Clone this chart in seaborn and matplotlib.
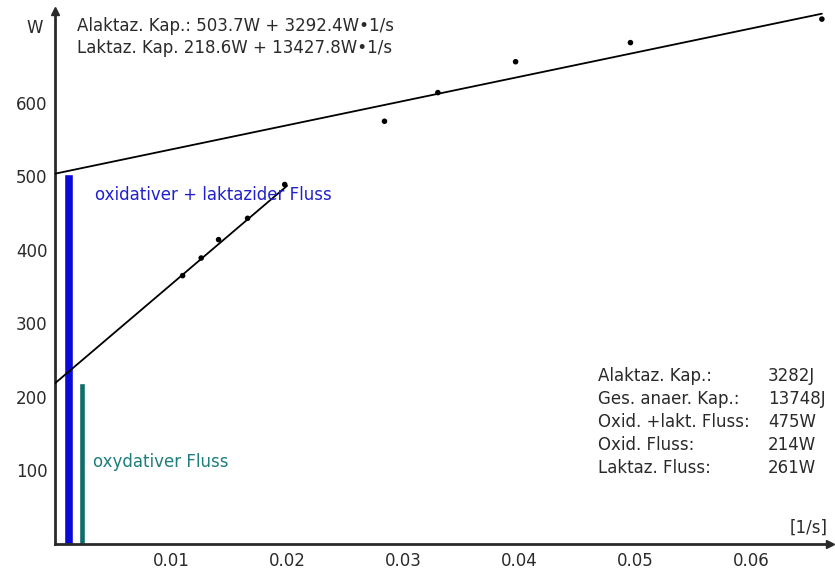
import numpy as np
import pandas as pd
import matplotlib
matplotlib.use("Agg")
import matplotlib.pyplot as plt
import seaborn as sns

# Data
lower_x = [0.0110, 0.0126, 0.0141, 0.0166, 0.0198]
lower_y = [365, 389, 414, 443, 489]
upper_x = [0.0284, 0.0330, 0.0397, 0.0496, 0.0661]
upper_y = [575, 614, 656, 682, 714]
alak_intercept, alak_slope = 503.7, 3292.4
lakt_intercept, lakt_slope = 218.6, 13427.8
upper_line_x = [0.0, 0.0661]
lower_line_x = [0.0, 0.0200]
bar_x = [0.00116, 0.00232]
bar_h = [503.7, 218.6]
bar_colors = ["#0a0ad8", "#0f6e6c"]
yticks = [100, 200, 300, 400, 500, 600]
xticks = [0.01, 0.02, 0.03, 0.04, 0.05, 0.06]
xtick_labels = ["0.01", "0.02", "0.03", "0.04", "0.05", "0.06"]
stats_labels = ["Alaktaz. Kap.:", "Ges. anaer. Kap.:", "Oxid. +lakt. Fluss:", "Oxid. Fluss:", "Laktaz. Fluss:"]
stats_values = ["3282J", "13748J", "475W", "214W", "261W"]

sns.set_style("white")
plt.rcParams['font.family'] = ['DejaVu Sans']

W, H = 835, 571
fig = plt.figure(figsize=(8.35, 5.71), dpi=100)
x0, y0, x1, y1 = 55, 544, 830, 11
ax = fig.add_axes([x0 / W, 1 - y0 / H, (x1 - x0) / W, (y0 - y1) / H])

xmax, ymax = 0.0668, 725

# bars
for bx, bh, bc, bw in zip(bar_x, bar_h, bar_colors, [0.00075, 0.00058]):
    ax.bar(bx, bh, width=bw, color=bc, zorder=2)

# regression lines
up_df = pd.DataFrame({"x": upper_line_x, "y": [alak_intercept + alak_slope * v for v in upper_line_x]})
lo_df = pd.DataFrame({"x": lower_line_x, "y": [lakt_intercept + lakt_slope * v for v in lower_line_x]})
sns.lineplot(data=up_df, x="x", y="y", ax=ax, color="black", lw=1.3, zorder=3)
sns.lineplot(data=lo_df, x="x", y="y", ax=ax, color="black", lw=1.3, zorder=3)

# points
pts = pd.DataFrame({"x": lower_x + upper_x, "y": lower_y + upper_y})
sns.scatterplot(data=pts, x="x", y="y", ax=ax, color="black", s=16, edgecolor="none", zorder=4)

ax.set_xlim(0, xmax)
ax.set_ylim(0, ymax)
ax.set_xlabel("")
ax.set_ylabel("")
ax.set_yticks(yticks)
ax.set_yticklabels([str(t) for t in yticks])
ax.set_xticks(xticks)
ax.set_xticklabels(xtick_labels)
ax.tick_params(axis='both', labelsize=12, colors="#2a2a2a", length=4.5, width=1.2, direction='out')
ax.tick_params(axis='y', pad=1)
ax.tick_params(axis='x', pad=2, length=3.5)
for s in ["top", "right"]:
    ax.spines[s].set_visible(False)
for s in ["left", "bottom"]:
    ax.spines[s].set_linewidth(2)
    ax.spines[s].set_color("#2a2a2a")

# arrow heads
ax.plot(1, 0, ">", color="#2a2a2a", ms=6, transform=ax.transAxes, clip_on=False)
ax.plot(0, 1, "^", color="#2a2a2a", ms=6, transform=ax.transAxes, clip_on=False)

# texts
tc = "#2a2a2a"
fs = 12
fig.text(35 / W, 1 - 33 / H, "W", fontsize=fs, color=tc, va="baseline", ha="center")
fig.text(77 / W, 1 - 31 / H, "Alaktaz. Kap.: 503.7W + 3292.4W\u20221/s", fontsize=fs, color=tc, va="baseline")
fig.text(77 / W, 1 - 53 / H, "Laktaz. Kap. 218.6W + 13427.8W\u20221/s", fontsize=fs, color=tc, va="baseline")
fig.text(95 / W, 1 - 200 / H, "oxidativer + laktazider Fluss", fontsize=fs, color="#2020cc", va="baseline")
fig.text(93 / W, 1 - 467 / H, "oxydativer Fluss", fontsize=fs, color="#1f7d7b", va="baseline")
fig.text(790 / W, 1 - 533 / H, "[1/s]", fontsize=fs, color=tc, va="baseline")
for i, (lab, val) in enumerate(zip(stats_labels, stats_values)):
    yy = 1 - (381 + i * 23) / H
    fig.text(598 / W, yy, lab, fontsize=fs, color=tc, va="baseline")
    fig.text(768 / W, yy, val, fontsize=fs, color=tc, va="baseline")

fig.savefig("out.png", dpi=100)
